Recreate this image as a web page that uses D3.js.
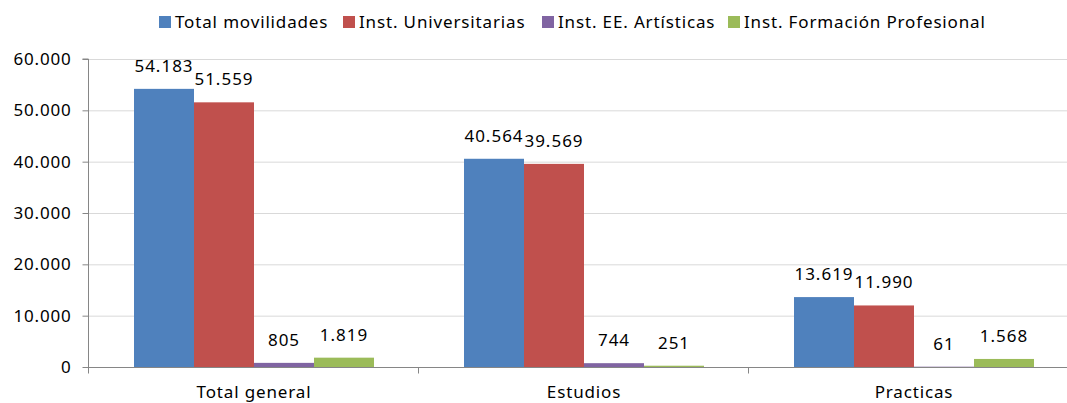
<!DOCTYPE html>
<html><head><meta charset="utf-8">
<script src="https://cdn.jsdelivr.net/npm/d3@7"></script>
<style>body{margin:0;background:#fff}svg{display:block}</style>
</head><body><svg id="c" width="1067" height="403"></svg>
<script>
const categories = ["Total general", "Estudios", "Practicas"];
const seriesNames = ["Total movilidades", "Inst. Universitarias", "Inst. EE. Artísticas", "Inst. Formación Profesional"];
const totalMovilidades = [54183, 40564, 13619];
const instUniversitarias = [51559, 39569, 11990];
const instArtisticas = [805, 744, 61];
const instFP = [1819, 251, 1568];
const yTicks = [0, 10000, 20000, 30000, 40000, 50000, 60000];
const colors = ["#4F81BD", "#C0504D", "#8064A2", "#9BBB59"];

const seriesValues = [totalMovilidades, instUniversitarias, instArtisticas, instFP];
const font = "'Noto Sans', 'Open Sans', sans-serif";
const fmt = v => d3.format(",")(v).replace(/,/g, ".");

const svg = d3.select("#c");
const x0 = 89, x1 = 1079, yTop = 59, yBot = 367;
const x = d3.scaleBand().domain(categories).range([x0, x1]).paddingInner(0).paddingOuter(0);
const xs = d3.scaleBand().domain(seriesNames).range([0, x.bandwidth()]).paddingInner(0).paddingOuter(0.75);
const y = d3.scaleLinear().domain([0, 60000]).range([yBot, yTop]);

// gridlines
svg.append("g").selectAll("line").data(yTicks.filter(d => d > 0)).join("line")
  .attr("x1", x0).attr("x2", 1067).attr("y1", d => y(d) + 0.5).attr("y2", d => y(d) + 0.5)
  .attr("stroke", "#d9d9d9").attr("stroke-width", 1);

// bars
const groups = svg.append("g").selectAll("g").data(seriesNames).join("g")
  .attr("fill", (d, i) => colors[i]);
groups.selectAll("rect").data((s, i) => categories.map((c, j) => ({c, s, v: seriesValues[i][j]}))).join("rect")
  .attr("x", d => x(d.c) + xs(d.s))
  .attr("width", xs.bandwidth())
  .attr("y", d => y(d.v))
  .attr("height", d => yBot - y(d.v));

// labels
groups.selectAll("text").data((s, i) => categories.map((c, j) => ({c, s, v: seriesValues[i][j]}))).join("text")
  .attr("x", d => x(d.c) + xs(d.s) + xs.bandwidth() / 2)
  .attr("y", d => y(d.v) - 17)
  .attr("text-anchor", "middle")
  .attr("fill", "#000").attr("font-family", font).attr("font-size", 17).attr("letter-spacing", "1px")
  .text(d => fmt(d.v));

// y axis
const yAxis = svg.append("g").attr("transform", `translate(${x0 - 0.5},0)`)
  .call(d3.axisLeft(y).tickValues(yTicks).tickSize(6).tickPadding(11).tickFormat(fmt));
yAxis.select(".domain").attr("stroke", "#868686").attr("d", `M-6,${yTop}H0V${yBot}`);
yAxis.selectAll(".tick line").attr("stroke", "#868686");
yAxis.selectAll(".tick text").attr("font-family", font).attr("font-size", 17).attr("letter-spacing", "0.8px").attr("fill", "#000");

// x axis
const xAxisG = svg.append("g").attr("transform", `translate(0,${yBot + 0.5})`);
xAxisG.append("line").attr("x1", x0 - 6).attr("x2", 1067).attr("stroke", "#868686");
xAxisG.selectAll("line.t").data([x0, x0 + x.bandwidth(), x0 + 2 * x.bandwidth()]).join("line")
  .attr("class", "t").attr("x1", d => Math.round(d) - 0.5).attr("x2", d => Math.round(d) - 0.5)
  .attr("y1", 0).attr("y2", 6).attr("stroke", "#868686");
xAxisG.selectAll("text").data(categories).join("text")
  .attr("x", d => x(d) + x.bandwidth() / 2).attr("y", 30)
  .attr("text-anchor", "middle").attr("font-family", font).attr("font-size", 17).attr("letter-spacing", "0.85px").attr("fill", "#000")
  .text(d => d);

// legend
const legendX = [159, 343, 542, 728];
const lg = svg.append("g").selectAll("g").data(seriesNames).join("g")
  .attr("transform", (d, i) => `translate(${legendX[i]},16)`);
lg.append("rect").attr("width", 12).attr("height", 12).attr("fill", (d, i) => colors[i]);
lg.append("text").attr("x", 16).attr("y", 12).attr("font-family", font).attr("font-size", 17).attr("letter-spacing", "0.85px").attr("fill", "#000")
  .text(d => d);
</script></body></html>
